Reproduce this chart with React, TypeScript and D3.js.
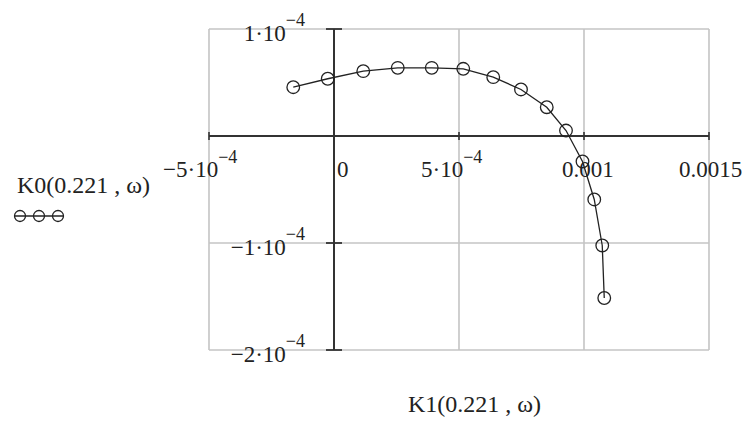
import React from "react";
import * as d3 from "d3";

// K1(0.221, ω) on the horizontal axis, K0(0.221, ω) on the vertical axis
const k1Values = [
  -1.63e-4, -2.5e-5, 1.17e-4, 2.55e-4, 3.91e-4, 5.17e-4, 6.37e-4,
  7.48e-4, 8.51e-4, 9.28e-4, 9.94e-4, 1.041e-3, 1.073e-3, 1.081e-3,
];
const k0Values = [
  4.56e-5, 5.35e-5, 6.06e-5, 6.37e-5, 6.37e-5, 6.28e-5, 5.5e-5,
  4.35e-5, 2.69e-5, 5.1e-6, -2.38e-5, -5.93e-5, -1.023e-4, -1.514e-4,
];

const xTicks = [-5e-4, 0, 5e-4, 1e-3, 1.5e-3];
const xTickMantissa = ["\u22125\u00b710", "0", "5\u00b710", "0.001", "0.0015"];
const xTickExponent = ["\u22124", "", "\u22124", "", ""];

const yTicks = [1e-4, -1e-4, -2e-4];
const yTickMantissa = ["1\u00b710", "\u22121\u00b710", "\u22122\u00b710"];
const yTickExponent = ["\u22124", "\u22124", "\u22124"];
const yGrid = [1e-4, 0, -1e-4, -2e-4];

const xTitle = "K1(0.221 , \u03c9)";
const yTitle = "K0(0.221 , \u03c9)";

const W = 747;
const H = 423;
const FONT = "'Liberation Serif', 'Times New Roman', serif";
const GRID = "#c4c4c4";
const AXIS = "#333";
const INK = "#222";

// horizontal offsets of x tick labels from their tick (label start)
const xLabelDx = [-46, 3, -38, -22, -30];

export default function App() {
  const x = d3.scaleLinear().domain([-5e-4, 1.5e-3]).range([209, 709]);
  const y = d3.scaleLinear().domain([-2e-4, 1e-4]).range([350, 29]);

  const pts = k1Values.map((v, i) => [x(v), y(k0Values[i])] as [number, number]);
  const line = d3.line().curve(d3.curveLinear)(pts) || "";

  const x0 = x(0);
  const y0 = y(0);
  const [xl, xr] = x.range();
  const [yb, yt] = y.range();

  return (
    <svg
      width={W}
      height={H}
      viewBox={`0 0 ${W} ${H}`}
      style={{ position: "absolute", left: 0, top: 0, background: "#fff" }}
      fontFamily={FONT}
    >
      <rect x={0} y={0} width={W} height={H} fill="#fff" />
      {/* grid */}
      {xTicks.map((t, i) => (
        <line key={"gx" + i} x1={x(t)} x2={x(t)} y1={yt} y2={yb} stroke={GRID} strokeWidth={1.6} />
      ))}
      {yGrid.map((t, i) => (
        <line key={"gy" + i} x1={xl} x2={xr} y1={y(t)} y2={y(t)} stroke={GRID} strokeWidth={1.6} />
      ))}

      {/* axes */}
      <line x1={xl} x2={xr} y1={y0} y2={y0} stroke={AXIS} strokeWidth={2} />
      <line x1={x0} x2={x0} y1={yt} y2={yb} stroke={AXIS} strokeWidth={2} />
      {xTicks.map((t, i) => (
        <line key={"tx" + i} x1={x(t)} x2={x(t)} y1={y0 - 4} y2={y0 + 4} stroke={AXIS} strokeWidth={1.6} />
      ))}
      {yGrid.map((t, i) => (
        <line key={"ty" + i} x1={x0 - 8} x2={x0 + 8} y1={y(t)} y2={y(t)} stroke={AXIS} strokeWidth={1.8} />
      ))}

      {/* x tick labels */}
      {xTicks.map((t, i) => (
        <text key={"lx" + i} x={x(t) + xLabelDx[i]} y={177} fontSize={23} fill={INK}>
          {xTickMantissa[i]}
          {xTickExponent[i] && (
            <tspan fontSize={18} dy={-14}>
              {xTickExponent[i]}
            </tspan>
          )}
        </text>
      ))}

      {/* y tick labels */}
      {yTicks.map((t, i) => (
        <text key={"ly" + i} x={x0 - 29} y={y(t) + 12} fontSize={23} fill={INK} textAnchor="end">
          {yTickMantissa[i]}
          <tspan fontSize={18} dy={-15}>
            {yTickExponent[i]}
          </tspan>
        </text>
      ))}

      {/* curve */}
      <path d={line} fill="none" stroke={INK} strokeWidth={1.3} />
      {pts.map((p, i) => (
        <circle key={"c" + i} cx={p[0]} cy={p[1]} r={6.3} fill="none" stroke={INK} strokeWidth={1.3} />
      ))}

      {/* titles */}
      <text x={17} y={193} fontSize={24} fill={INK}>
        {yTitle}
      </text>
      <g>
        <line x1={14} x2={64} y1={216} y2={216} stroke={INK} strokeWidth={1.3} />
        {[20, 39, 58].map((cx, i) => (
          <circle key={"lg" + i} cx={cx} cy={216} r={5.5} fill="none" stroke={INK} strokeWidth={1.3} />
        ))}
      </g>
      <text x={408} y={412} fontSize={24} fill={INK}>
        {xTitle}
      </text>
    </svg>
  );
}
